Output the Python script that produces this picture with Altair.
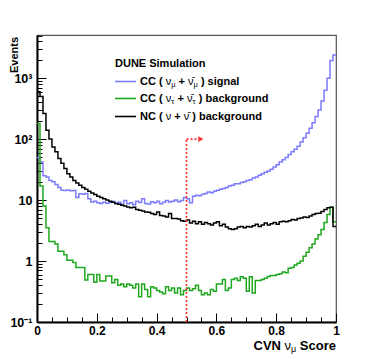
import altair as alt
import pandas as pd

# ---------------- data ----------------
series_names = ["signal", "nutau", "nc"]
series_colors = ["#7b7bff", "#1fa81f", "#000000"]

signal = [50, 42, 25, 24, 21, 20, 18, 16, 14.5, 14.4,
          14.6, 14.2, 14.4, 11, 12.7, 12.5, 12.8, 10.5, 9.3, 9.6,
          9.0, 8.8, 9.2, 8.9, 9.1,
          9.5, 8.8, 9.2, 8.5, 9.8, 8.7, 9.0, 8.4, 9.6, 9.1,
          10.5, 8.8, 8.6, 9.4, 9.0, 9.6, 8.7, 9.2, 9.8, 9.3,
          9.6, 10.0, 9.4, 9.8, 11.0,
          10.5, 9.0, 11.5, 12.0, 11.8, 12.5, 12.8, 13.5, 13.2, 14.0,
          14.5, 15.0, 15.5, 16.0, 17.0, 17.5, 18.5, 18.5, 19.5, 20.0,
          21.0, 21.5, 23.0, 24.0, 25.5, 27.0, 28.5, 30.0, 32.0, 35.0,
          38.0, 42.0, 46.0, 50.0, 56.0, 62.0, 68.0, 76.0, 90.0, 105.0,
          125.0, 150.0, 185.0, 235.0, 300.0, 420.0, 630.0, 1000.0, 1950.0, 2400.0]

nutau = [180, 17, 8, 3.5, 2.1, 2.1, 1.9, 1.45, 1.45, 1.27,
         1.03, 1.03, 0.95, 0.78, 0.78, 0.78, 0.49, 0.6, 0.6, 0.45,
         0.6, 0.47, 0.47, 0.57, 0.57,
         0.44, 0.5, 0.4, 0.42, 0.38, 0.42, 0.4, 0.36, 0.42, 0.26,
         0.42, 0.34, 0.26, 0.38, 0.36, 0.33, 0.31, 0.29, 0.38, 0.33,
         0.36, 0.3, 0.36, 0.28, 0.33,
         0.36, 0.33, 0.35, 0.4, 0.33, 0.28, 0.3, 0.28, 0.34, 0.32,
         0.42, 0.42, 0.5, 0.33, 0.36, 0.5, 0.52, 0.48, 0.55, 0.52,
         0.32, 0.55, 0.3, 0.48, 0.48, 0.5, 0.52, 0.56, 0.58, 0.58,
         0.6, 0.62, 0.66, 0.64, 0.76, 0.78, 0.86, 0.92, 1.0, 1.2,
         1.4, 1.65, 1.9, 2.3, 2.7, 3.3, 4.3, 5.8, 7.6, 4.4]

nc = [600, 500, 263, 140, 100, 74, 62, 48, 40, 33,
      27, 24, 21, 19, 17.5, 16, 15, 14, 13, 12.3,
      11.6, 11, 10.5, 10, 9.6,
      9.2, 8.8, 8.5, 8.2, 8.0, 7.7, 7.5, 7.6, 7.0, 6.8,
      6.6, 6.4, 6.3, 6.0, 5.8, 6.4, 5.6, 5.5, 5.3, 6.0,
      5.0, 5.0, 4.9, 4.6, 4.5,
      4.7, 4.2, 4.5, 4.1, 4.4, 4.0, 4.3, 4.1, 3.9, 4.2,
      4.4, 3.8, 4.0, 3.6, 3.4, 3.3, 3.4, 3.6, 3.7, 3.5,
      3.7, 3.6, 3.8, 4.0, 3.7, 3.9, 4.2, 3.9, 4.1, 4.3,
      4.0, 4.4, 4.5, 4.4, 4.6, 4.8, 4.7, 5.0, 5.1, 5.3,
      5.2, 5.5, 5.8, 6.0, 6.1, 6.5, 7.0, 7.5, 7.6, 3.7]

n_bins = 100
x_major = [0, 0.2, 0.4, 0.6, 0.8, 1]
x_minor = [0.05, 0.1, 0.15, 0.25, 0.3, 0.35, 0.45, 0.5, 0.55, 0.65, 0.7, 0.75,
           0.85, 0.9, 0.95]
y_major = [0.1, 1, 10, 100, 1000]
y_minor = [m * d for d in [0.1, 1, 10, 100, 1000] for m in range(2, 10) if m * d <= 5000]

cut_value = 0.5
arrow_level = 100
arrow_tip = 0.548
arrow_line_end = 0.535

# ---------------- table ----------------
rows = []
for name, vals in zip(series_names, [signal, nutau, nc]):
    for i, v in enumerate(vals):
        rows.append({"x": i / n_bins, "y": v, "series": name})
    rows.append({"x": 1.0, "y": vals[-1], "series": name})
df = pd.DataFrame(rows)

W, H = 299, 287
FONT = "Liberation Sans"
xs = alt.Scale(domain=[0, 1], nice=False, zero=False)
ys = alt.Scale(type="log", domain=[0.1, 5100], nice=False)

hist = alt.Chart(df).mark_line(interpolate="step-after", strokeWidth=1.5, clip=True).encode(
    x=alt.X("x:Q", scale=xs, axis=alt.Axis(
        orient="bottom", values=x_major, tickSize=0, labelFlush=False,
        labelExpr="datum.value == 0 ? '0' : datum.value == 1 ? '1' : format(datum.value, '.1f')",
        labelFont=FONT, labelFontWeight="bold", labelFontSize=12, labelColor="black",
        labelPadding=3, domainColor="black", domainWidth=2, title=None, grid=False)),
    y=alt.Y("y:Q", scale=ys, axis=alt.Axis(
        orient="left", values=y_major, tickSize=0, labelFlush=False,
        labelExpr="datum.value < 0.5 ? '10⁻¹' : datum.value < 5 ? '1' : datum.value < 50 ? '10' : datum.value < 500 ? '10²' : '10³'",
        labelFont=FONT, labelFontWeight="bold", labelFontSize=12.5, labelColor="black",
        labelPadding=5, domainColor="black", domainWidth=2, title=None, grid=False)),
    color=alt.Color("series:N", scale=alt.Scale(domain=series_names, range=series_colors), legend=None),
)


def tick_layer(channel, values, size):
    common = dict(tickSize=size, offset=-size, values=values, labels=False, domain=False,
                  grid=False, title=None, tickColor="black", tickWidth=1)
    if channel == "x":
        enc = {"x": alt.X("v:Q", scale=xs, axis=alt.Axis(orient="bottom", **common))}
    else:
        enc = {"y": alt.Y("v:Q", scale=ys, axis=alt.Axis(orient="left", **common))}
    return alt.Chart(pd.DataFrame({"v": values})).mark_point(opacity=0).encode(**enc)


ticks = [tick_layer("x", x_major, 9), tick_layer("x", x_minor, 5),
         tick_layer("y", y_major, 9), tick_layer("y", y_minor, 5)]

# ---------------- cut arrow ----------------
RED = "#ff2d2d"
cut_df = pd.DataFrame({"x": [cut_value], "x2": [arrow_line_end], "y0": [0.1],
                       "y1": [arrow_level], "tip": [arrow_tip]})
cut_v = alt.Chart(cut_df).mark_rule(color=RED, strokeDash=[2, 2], strokeWidth=1.6).encode(
    x=alt.X("x:Q", scale=xs, axis=None), y=alt.Y("y0:Q", scale=ys, axis=None), y2="y1:Q")
cut_h = alt.Chart(cut_df).mark_rule(color=RED, strokeDash=[2, 2], strokeWidth=1.6).encode(
    x=alt.X("x:Q", scale=xs, axis=None), x2="x2:Q", y=alt.Y("y1:Q", scale=ys, axis=None))
cut_head = alt.Chart(cut_df).mark_point(shape="triangle-right", filled=True, color=RED,
                                        size=35, opacity=1).encode(
    x=alt.X("tip:Q", scale=xs, axis=None), y=alt.Y("y1:Q", scale=ys, axis=None))

# ---------------- text helpers ----------------
BW = {'C': .722, 'N': .722, 'V': .667, 'S': .667, 'D': .722, 'U': .722, 'E': .667,
      ' ': .278, '(': .333, ')': .333, '+': .584, 's': .556, 'i': .278, 'g': .611,
      'n': .611, 'a': .556, 'l': .278, 'b': .611, 'c': .556, 'k': .556, 'r': .389,
      'o': .611, 'u': .611, 'd': .611, 'e': .556, 'm': .889, 't': .333}
GW = {'ν': .5, 'μ': .576, 'τ': .438, '\u0304': 0, ' ': .278}
one = pd.DataFrame({"a": [0]})


def seg_width(s, size, kind):
    tbl = GW if kind in ("g", "s") else BW
    return size * sum(tbl.get(c, .556) for c in s)


def text_run(segments, x0, y, size, sub_size, anchor="left"):
    sizes = {"b": size, "g": size, "s": sub_size}
    total = sum(seg_width(s, sizes[k], k) for s, k in segments)
    cur = x0 if anchor == "left" else x0 - total
    out = []
    for s, k in segments:
        sz = sizes[k]
        lead = len(s) - len(s.lstrip(" "))
        txt = s.strip(" ")
        if txt:
            out.append(alt.Chart(one).mark_text(
                text=txt, align="left", baseline="middle", font=FONT, fontSize=sz,
                fontWeight="bold" if k == "b" else "normal", color="black",
                dy=3 if k == "s" else 0).encode(
                x=alt.value(cur + lead * .278 * sz), y=alt.value(y)))
        cur += seg_width(s, sz, k)
    return out


legend_rows = [
    [("CC ( ", "b"), ("ν", "g"), ("μ", "s"), (" + ", "b"), ("ν\u0304", "g"), ("μ", "s"), (" ) signal", "b")],
    [("CC ( ", "b"), ("ν", "g"), ("τ", "s"), (" + ", "b"), ("ν\u0304", "g"), ("τ", "s"), (" ) background", "b")],
    [("NC ( ", "b"), ("ν", "g"), (" + ", "b"), ("ν\u0304", "g"), (" ) background", "b")],
]
legend_y = [46.5, 63.5, 81.5]
LX0, LX1, LTX = 78, 99, 103

texts = []
texts.append(alt.Chart(one).mark_text(text="DUNE Simulation", align="left", baseline="middle",
                                      font=FONT, fontSize=11, fontWeight="bold", color="black").encode(
    x=alt.value(LX0), y=alt.value(28.5)))
for segs, yy, col in zip(legend_rows, legend_y, series_colors):
    texts.append(alt.Chart(one).mark_rule(color=col, strokeWidth=1.6).encode(
        x=alt.value(LX0), x2=alt.value(LX1), y=alt.value(yy)))
    texts += text_run(segs, LTX, yy, 11, 7.5)

# axis titles
texts += text_run([("CVN ", "b"), ("ν", "g"), ("μ", "s"), (" Score", "b")], W, 311, 13, 9, anchor="right")
texts.append(alt.Chart(one).mark_text(text="Events", angle=270, align="right", baseline="middle",
                                      font=FONT, fontSize=11, fontWeight="bold", color="black").encode(
    x=alt.value(-22), y=alt.value(2)))

chart = alt.layer(hist, *ticks, cut_v, cut_h, cut_head, *texts).resolve_axis(
    x="independent", y="independent"
).properties(
    width=W, height=H,
    autosize=alt.AutoSizeParams(type="none"),
    padding={"left": 29, "top": 27, "right": 30, "bottom": 36},
    background="white",
).configure_view(stroke="#555555", strokeWidth=1.2).configure_axis(grid=False)

chart.save("out.html", embed_options={"renderer": "svg", "actions": False})
